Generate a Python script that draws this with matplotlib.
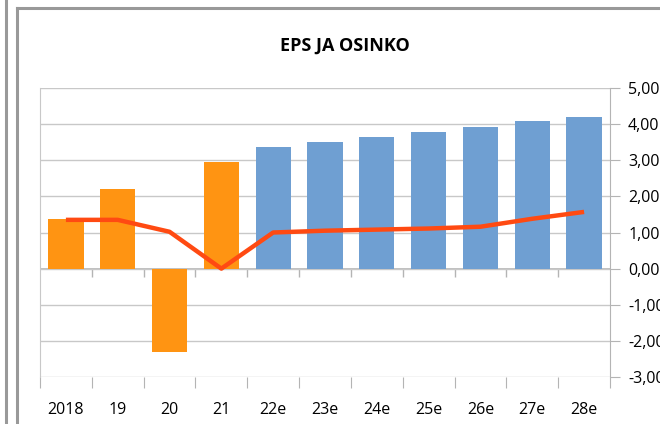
# EPS ja osinko -kaavio

import matplotlib.pyplot as plt
from matplotlib.lines import Line2D
from matplotlib.ticker import FuncFormatter

years = ['2018', '19', '20', '21', '22e', '23e', '24e', '25e', '26e', '27e', '28e']
eps = [1.38, 2.21, -2.32, 2.96, 3.37, 3.51, 3.65, 3.78, 3.92, 4.09, 4.21]
osinko = [1.35, 1.35, 1.02, 0.00, 1.00, 1.05, 1.08, 1.11, 1.16, 1.38, 1.57]
toteutunut = 4  # 4 ensimmäistä = toteutunut, loput ennusteita

plt.rcParams['font.family'] = ['Open Sans', 'DejaVu Sans']

fig = plt.figure(figsize=(6.6, 4.24), dpi=100)
ax = fig.add_axes([40/660, 1 - 377/424, 570/660, 289/424])

x = list(range(len(years)))
colors = ['#FF9412' if i < toteutunut else '#6F9FD2' for i in x]
ax.bar(x, eps, width=0.68, color=colors, zorder=2)
ax.plot(x, osinko, color='#FF4A12', lw=3.2, zorder=3, solid_capstyle='butt')

ax.set_xlim(-0.5, len(years) - 0.5)
ax.set_ylim(-3, 5)
ax.set_yticks(range(-3, 6))
ax.yaxis.set_major_formatter(FuncFormatter(lambda v, p: ('%.2f' % v).replace('.', ',')))
ax.yaxis.tick_right()
ax.grid(axis='y', color='#C8C8C8', lw=1, zorder=0)
ax.tick_params(axis='y', length=7, color='#B4B4B4', labelsize=11.5, pad=6)

# kategoria-akseli: väliviivat alhaalla, nimet keskellä
bounds = [i - 0.5 for i in range(len(years) + 1)]
ax.set_xticks(bounds)
ax.set_xticklabels([])
ax.set_xticks(x, minor=True)
ax.set_xticklabels(years, minor=True)
ax.tick_params(axis='x', which='major', length=8, color='#B4B4B4')
ax.tick_params(axis='x', which='minor', length=0, labelsize=11.5, pad=18)

ax.axhline(0, color='#B4B4B4', lw=1.2, zorder=1)
ax.vlines(bounds[1:-1], -0.24, 0, color='#B4B4B4', lw=1, zorder=1)

for s in ['top', 'bottom']:
    ax.spines[s].set_visible(False)
ax.spines['left'].set_color('#C8C8C8')
ax.spines['right'].set_color('#B4B4B4')

fig.text(345/660, 1 - 46/424, 'EPS JA OSINKO', ha='center', va='center',
         fontsize=13, fontweight='bold')

# kehykset
fig.add_artist(Line2D([6/660, 6/660], [0, 1], color='#999999', lw=2.2))
fig.add_artist(Line2D([16.5/660, 16.5/660], [0, 1 - 7.5/424], color='#999999', lw=2.2))
fig.add_artist(Line2D([16.5/660, 1], [1 - 7.5/424, 1 - 7.5/424], color='#999999', lw=2.2))

plt.savefig('out.png', dpi=100)
